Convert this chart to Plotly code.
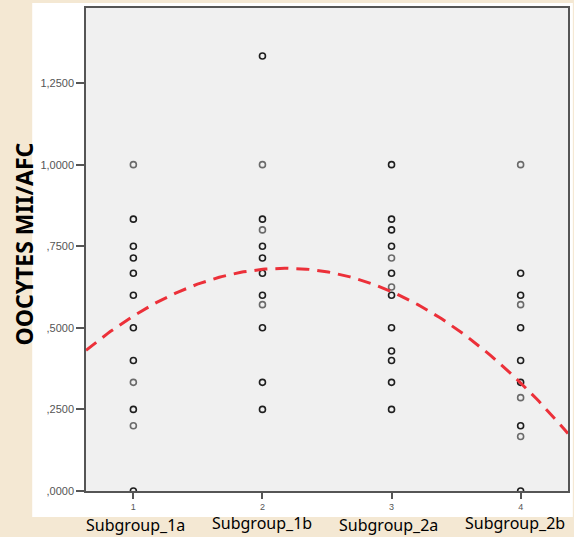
import plotly.graph_objects as go
import numpy as np

# ---------------- data ----------------
categories = ["Subgroup_1a", "Subgroup_1b", "Subgroup_2a", "Subgroup_2b"]
group_index = [1, 2, 3, 4]

g1_vals = [1.0, 0.833, 0.75, 0.714, 0.667, 0.6, 0.5, 0.4, 0.333, 0.25, 0.2, 0.0]
g1_counts = [1, 2, 2, 2, 2, 2, 2, 2, 1, 2, 1, 2]
g2_vals = [1.333, 1.0, 0.833, 0.8, 0.75, 0.714, 0.667, 0.6, 0.571, 0.5, 0.333, 0.25]
g2_counts = [2, 1, 2, 1, 2, 2, 2, 2, 1, 2, 2, 2]
g3_vals = [1.0, 0.833, 0.8, 0.75, 0.714, 0.667, 0.625, 0.6, 0.5, 0.429, 0.4, 0.333, 0.25]
g3_counts = [2, 2, 2, 2, 1, 2, 1, 2, 2, 2, 2, 2, 2]
g4_vals = [1.0, 0.667, 0.6, 0.571, 0.5, 0.4, 0.333, 0.286, 0.2, 0.167, 0.0]
g4_counts = [1, 2, 2, 1, 2, 2, 2, 1, 2, 1, 2]

# quadratic fit line coefficients (v = c0 + c1*x + c2*x^2)
fit_c0 = 0.1823
fit_c1 = 0.4597
fit_c2 = -0.1056

y_tickvals = [0.0, 0.25, 0.5, 0.75, 1.0, 1.25]
y_ticktext = [",0000", ",2500", ",5000", ",7500", "1,0000", "1,2500"]
x_ticktext = ["1", "2", "3", "4"]
y_title = "OOCYTES MII/AFC"

# ---------------- figure ----------------
X_RANGE = [0.633, 4.367]
Y_RANGE = [0.0, 1.48]

fig = go.Figure()

groups = [(g1_vals, g1_counts), (g2_vals, g2_counts), (g3_vals, g3_counts), (g4_vals, g4_counts)]
for gi, (vals, cnts) in zip(group_index, groups):
    colors = ["#1e1e1e" if c > 1 else "#6a6a6a" for c in cnts]
    fig.add_trace(go.Scatter(
        x=[gi] * len(vals), y=vals, mode="markers",
        marker=dict(symbol="circle-open", size=6, color=colors,
                    line=dict(width=1.6, color=colors)),
        showlegend=False, hoverinfo="y",
    ))

xs = np.linspace(X_RANGE[0], X_RANGE[1], 200)
ys = fit_c0 + fit_c1 * xs + fit_c2 * xs ** 2
fig.add_trace(go.Scatter(
    x=xs, y=ys, mode="lines",
    line=dict(color="#ec3039", width=3, dash="13px,8px"),
    showlegend=False, hoverinfo="skip",
))

# white panel behind the chart and grey plot area
fig.add_shape(type="rect", xref="paper", yref="paper",
              x0=-0.1116, x1=1.01, y0=-0.054, y1=1.0104,
              fillcolor="white", line=dict(width=0), layer="below")
fig.add_shape(type="rect", xref="paper", yref="paper",
              x0=0, x1=1, y0=0, y1=1,
              fillcolor="#f0f0f0", line=dict(width=0), layer="below")

fig.update_xaxes(
    range=X_RANGE, tickvals=group_index, ticktext=x_ticktext,
    showgrid=False, zeroline=False,
    showline=True, linecolor="#555555", linewidth=1.5, mirror=True,
    ticks="outside", ticklen=6, tickcolor="#555555", tickwidth=1.5,
    tickfont=dict(family="Arial, Liberation Sans", size=9, color="#555555"),
)
fig.update_yaxes(
    range=Y_RANGE, tickvals=y_tickvals, ticktext=y_ticktext,
    showgrid=False, zeroline=False,
    showline=True, linecolor="#555555", linewidth=1.5, mirror=True,
    ticks="outside", ticklen=8, tickcolor="#555555", tickwidth=1.5,
    tickfont=dict(family="Arial, Liberation Sans", size=11, color="#555555"),
)

# y title
fig.add_annotation(text=f"<b>{y_title}</b>", xref="paper", yref="paper",
                   x=-0.128, y=0.511, textangle=-90, showarrow=False,
                   xanchor="center", yanchor="middle",
                   font=dict(family="Noto Sans, Open Sans", size=23, color="black"))

# category labels beneath ticks
label_y = [-0.071, -0.067, -0.071, -0.067]
label_shift = [2, 0, -3, -6]
for gi, name, ly, sh in zip(group_index, categories, label_y, label_shift):
    fig.add_annotation(text=name, xref="x", yref="paper", x=gi, y=ly,
                       xshift=sh, showarrow=False, xanchor="center", yanchor="middle",
                       font=dict(family="Noto Sans", size=16, color="black"))

fig.update_layout(
    width=574, height=537,
    margin=dict(l=86, r=4, t=8, b=46),
    paper_bgcolor="#f4e8d3",
    plot_bgcolor="#f0f0f0",
    showlegend=False,
)

fig.write_html("out.html")
